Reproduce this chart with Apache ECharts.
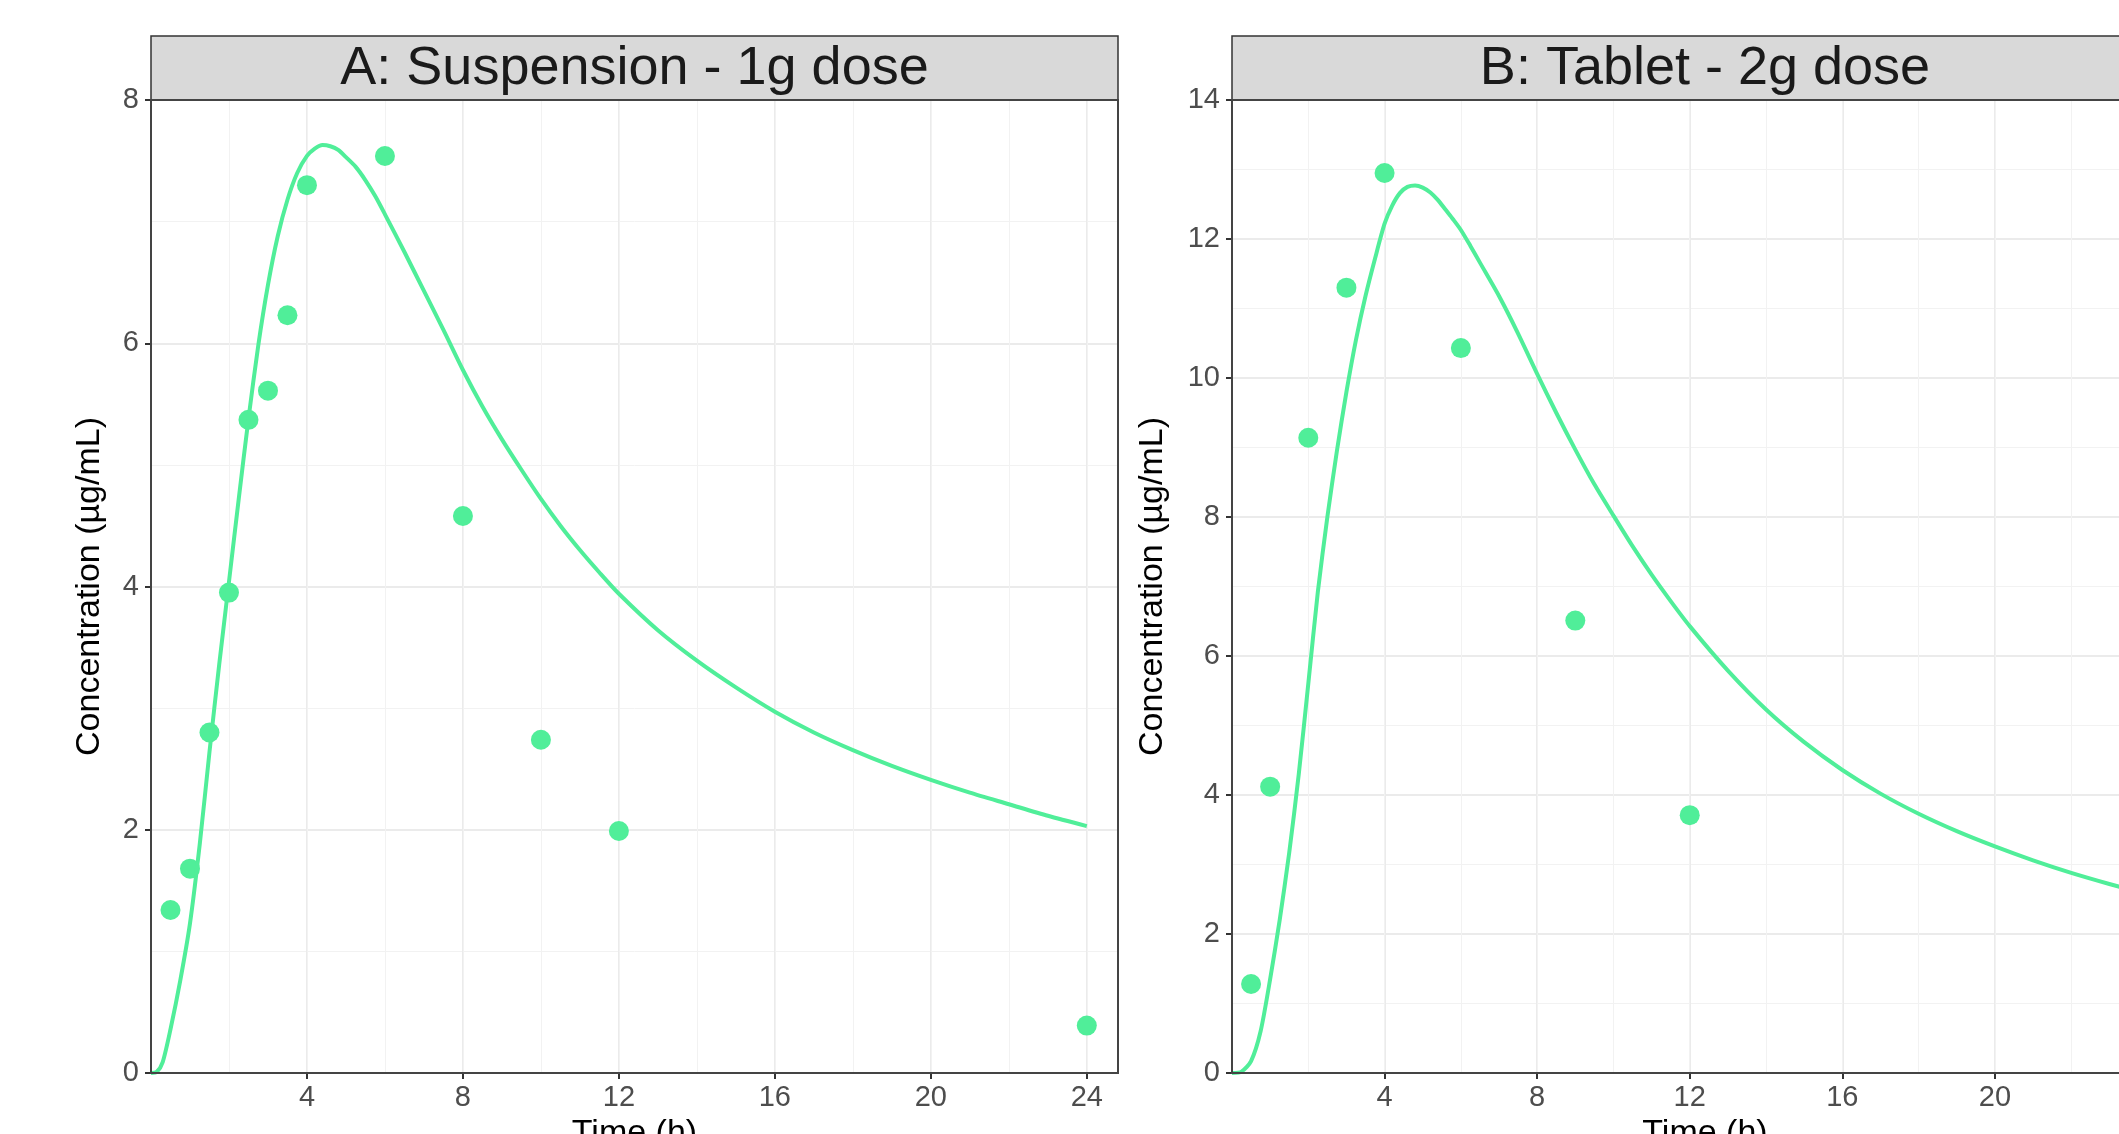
<!DOCTYPE html>
<html><head><meta charset="utf-8">
<script src="https://cdn.jsdelivr.net/npm/echarts@6/dist/echarts.min.js"></script>
<style>html,body{margin:0;padding:0;background:#fff}#c{width:2119px;height:1134px}</style>
</head><body><div id="c"></div>
<script>
// ---- data ----
const panelTitles = ['A: Suspension - 1g dose', 'B: Tablet - 2g dose'];
const xTickValues = [4, 8, 12, 16, 20, 24];
const yTicksA = [0, 2, 4, 6, 8];
const yTicksB = [0, 2, 4, 6, 8, 10, 12, 14];

// observed concentrations
const obsTimeA = [0.5, 1, 1.5, 2, 2.5, 3, 3.5, 4, 6, 8, 10, 12, 24];
const obsConcA = [1.34, 1.68, 2.80, 3.95, 5.37, 5.61, 6.23, 7.30, 7.54, 4.58, 2.74, 1.99, 0.39];
const obsTimeB = [0.5, 1, 2, 3, 4, 6, 9, 12];
const obsConcB = [1.28, 4.12, 9.14, 11.30, 12.95, 10.43, 6.51, 3.71];

// fitted curves
const fitTimeA = [0, 0.15, 0.3, 0.5, 0.75, 1.0, 1.25, 1.5, 1.75, 2.0, 2.25, 2.5, 2.75, 3.0, 3.25, 3.5, 3.75, 4.0, 4.2, 4.4, 4.6, 4.8, 5.0, 5.25, 5.5, 5.75, 6.0, 6.5, 7.0, 7.5, 8, 8.5, 9, 9.5, 10, 10.5, 11, 11.5, 12, 13, 14, 15, 16, 17, 18, 19, 20, 21, 22, 23, 24];
const fitConcA = [0, 0.01, 0.09, 0.36, 0.76, 1.23, 1.88, 2.64, 3.36, 4.04, 4.72, 5.38, 5.98, 6.48, 6.88, 7.18, 7.40, 7.54, 7.60, 7.63, 7.62, 7.59, 7.53, 7.45, 7.34, 7.21, 7.06, 6.75, 6.43, 6.11, 5.78, 5.48, 5.21, 4.96, 4.72, 4.50, 4.30, 4.115, 3.94, 3.64, 3.39, 3.17, 2.97, 2.80, 2.655, 2.525, 2.41, 2.305, 2.21, 2.115, 2.03];
const fitTimeB = [0, 0.25, 0.5, 0.75, 1.0, 1.25, 1.5, 1.75, 2.0, 2.25, 2.5, 2.75, 3.0, 3.25, 3.5, 3.75, 4.0, 4.2, 4.4, 4.6, 4.8, 5.0, 5.2, 5.4, 5.6, 5.8, 6.0, 6.25, 6.5, 7.0, 7.5, 8, 8.5, 9, 9.5, 10, 10.5, 11, 11.5, 12, 13, 14, 15, 16, 17, 18, 19, 20, 21, 22, 23, 24];
const fitConcB = [0, 0.02, 0.17, 0.60, 1.35, 2.20, 3.17, 4.30, 5.60, 6.92, 8.00, 8.95, 9.80, 10.55, 11.18, 11.72, 12.22, 12.48, 12.66, 12.75, 12.77, 12.74, 12.67, 12.56, 12.42, 12.28, 12.13, 11.90, 11.66, 11.18, 10.64, 10.06, 9.50, 8.97, 8.47, 8.02, 7.58, 7.17, 6.79, 6.43, 5.79, 5.23, 4.76, 4.36, 4.02, 3.73, 3.48, 3.26, 3.06, 2.88, 2.72, 2.57];

const xAxisTitle = 'Time (h)';
const yAxisTitle = 'Concentration (\u00b5g/mL)';

// ---- styling / layout ----
const FONT = '"Liberation Sans", Arial, sans-serif';
const GREEN = '#50EE99';
const panels = [
  {left: 151, top: 100, width: 967, height: 973, ymax: 8, nameGap: 44},
  {left: 1232, top: 100, width: 946, height: 973, ymax: 14, nameGap: 62}
];
const stripTop = 36;

const zip = (a, b) => a.map((v, i) => [v, b[i]]);

const grids = panels.map(p => ({left: p.left, top: p.top, width: p.width, height: p.height,
  containLabel: false, outerBoundsMode: 'none'}));
const xAxes = [];
const yAxes = [];
panels.forEach((p, i) => {
  xAxes.push({
    type: 'value', gridIndex: i, min: 0, max: 24.8, interval: 4,
    axisLine: {show: false},
    axisTick: {show: true, customValues: xTickValues, length: 6, lineStyle: {color: '#333', width: 2}},
    axisLabel: {customValues: xTickValues, fontSize: 29, color: '#4D4D4D', margin: 10, fontFamily: FONT},
    splitLine: {show: true, lineStyle: {color: '#EBEBEB', width: 2}},
    name: xAxisTitle, nameLocation: 'middle', nameGap: 42,
    nameTextStyle: {fontSize: 34, color: '#000', fontFamily: FONT}
  });
  xAxes.push({
    type: 'value', gridIndex: i, min: 0, max: 24.8, interval: 2,
    axisLine: {show: false}, axisTick: {show: false}, axisLabel: {show: false},
    splitLine: {show: true, lineStyle: {color: '#F2F2F2', width: 1}}
  });
  yAxes.push({
    type: 'value', gridIndex: i, min: 0, max: p.ymax, interval: 2,
    axisLine: {show: false},
    axisTick: {show: true, length: 6, lineStyle: {color: '#333', width: 2}},
    axisLabel: {fontSize: 29, color: '#4D4D4D', margin: 12, fontFamily: FONT},
    splitLine: {show: true, lineStyle: {color: '#EBEBEB', width: 2}},
    minorTick: {show: false, splitNumber: 2},
    minorSplitLine: {show: true, lineStyle: {color: '#F2F2F2', width: 1}},
    name: yAxisTitle, nameLocation: 'middle', nameGap: p.nameGap, nameRotate: 90,
    nameTextStyle: {fontSize: 34, color: '#000', fontFamily: FONT}
  });
});

const graphics = [];
panels.forEach((p, i) => {
  graphics.push({
    type: 'rect', z: 100,
    shape: {x: p.left, y: stripTop, width: p.width, height: p.top - stripTop},
    style: {fill: '#D9D9D9', stroke: '#333', lineWidth: 1.5}
  });
  graphics.push({
    type: 'text', z: 101,
    x: p.left + p.width / 2, y: (stripTop + p.top) / 2 + 1,
    style: {text: panelTitles[i], font: '54px ' + FONT, fill: '#1A1A1A', textAlign: 'center', textVerticalAlign: 'middle'}
  });
  graphics.push({
    type: 'rect', z: 100,
    shape: {x: p.left, y: p.top, width: p.width, height: p.height},
    style: {fill: null, stroke: '#444', lineWidth: 2}
  });
});

const series = [
  {type: 'line', xAxisIndex: 0, yAxisIndex: 0, data: zip(fitTimeA, fitConcA), showSymbol: false,
   smooth: 0.25, lineStyle: {color: GREEN, width: 4, join: 'round'}, itemStyle: {color: GREEN}},
  {type: 'scatter', xAxisIndex: 0, yAxisIndex: 0, data: zip(obsTimeA, obsConcA), symbolSize: 20,
   itemStyle: {color: GREEN, opacity: 1}},
  {type: 'line', xAxisIndex: 2, yAxisIndex: 1, data: zip(fitTimeB, fitConcB), showSymbol: false,
   smooth: 0.25, lineStyle: {color: GREEN, width: 4, join: 'round'}, itemStyle: {color: GREEN}},
  {type: 'scatter', xAxisIndex: 2, yAxisIndex: 1, data: zip(obsTimeB, obsConcB), symbolSize: 20,
   itemStyle: {color: GREEN, opacity: 1}}
];

const chart = echarts.init(document.getElementById('c'), null, {renderer: 'canvas'});
chart.setOption({
  animation: false,
  backgroundColor: '#fff',
  textStyle: {fontFamily: FONT},
  grid: grids,
  xAxis: xAxes,
  yAxis: yAxes,
  graphic: graphics,
  series: series
});
</script>
</body></html>
